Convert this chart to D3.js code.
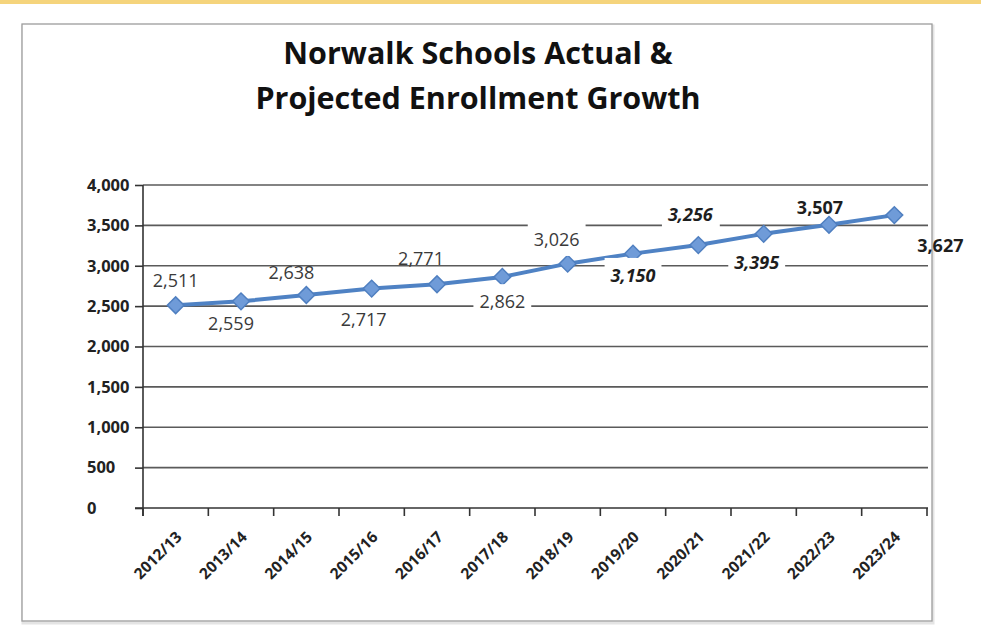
<!DOCTYPE html>
<html>
<head>
<meta charset="utf-8">
<script src="https://cdn.jsdelivr.net/npm/d3@7"></script>
<style>
  body { margin: 0; background: #fff; }
  svg { display: block; }
</style>
</head>
<body>
<div id="chart"></div>
<script>
const years = ["2012/13","2013/14","2014/15","2015/16","2016/17","2017/18","2018/19","2019/20","2020/21","2021/22","2022/23","2023/24"];
const enrollment = [2511, 2559, 2638, 2717, 2771, 2862, 3026, 3150, 3256, 3395, 3507, 3627];
const yTicks = [0, 500, 1000, 1500, 2000, 2500, 3000, 3500, 4000];
const titleLines = ["Norwalk Schools Actual &", "Projected Enrollment Growth"];

// label placement (offset from point, px) and look, one per point
const labelOffsets = [[0,-25],[-10,22],[-15,-22],[-8,31],[-16,-26],[0,25],[-11,-24],[0,22],[-8,-30],[-7,29],[-9,-17],[46,31]];
const labelStyle = ["n","n","n","n","n","nb","nb","bib","bib","bib","b","b"];

const width = 981, height = 635;

const svg = d3.select("#chart")
  .append("svg")
  .attr("width", width)
  .attr("height", height);

// yellow strip at the top
svg.append("rect").attr("x", 0).attr("y", 0).attr("width", width).attr("height", 4).attr("fill", "#f5d47c");

// chart frame
svg.append("rect").attr("x", 23).attr("y", 26).attr("width", 910).attr("height", 597)
  .attr("fill", "none").attr("stroke", "#e4e4e4").attr("stroke-width", 3);
svg.append("rect").attr("x", 22).attr("y", 24).attr("width", 910).attr("height", 597)
  .attr("fill", "#fff").attr("stroke", "#9c9c9c").attr("stroke-width", 1.3);

svg.append("text")
  .attr("text-anchor", "middle")
  .style("font-family", "'Open Sans', sans-serif")
  .style("font-weight", "bold")
  .style("font-size", "30.5px")
  .attr("fill", "#111")
  .selectAll("tspan")
  .data(titleLines)
  .enter()
  .append("tspan")
  .attr("x", 478)
  .attr("y", (d, i) => 64 + i * 45)
  .text(d => d);

const x = d3.scaleBand().domain(years).range([143, 927]);
const y = d3.scaleLinear().domain([0, 4000]).range([508, 185]);

// gridlines
svg.append("g")
  .selectAll("line")
  .data(yTicks.filter(d => d > 0))
  .enter()
  .append("line")
  .attr("x1", 143).attr("x2", 928)
  .attr("y1", d => y(d)).attr("y2", d => y(d))
  .attr("stroke", "#5a5a5a").attr("stroke-width", 1.6);

// y axis
const yAxis = svg.append("g")
  .attr("transform", "translate(143,0)")
  .call(d3.axisLeft(y).tickValues(yTicks).tickSize(8).tickFormat(d3.format(",")));
yAxis.select(".domain").remove();
yAxis.selectAll(".tick line").attr("stroke", "#333").attr("stroke-width", 1.6);
yAxis.selectAll(".tick text")
  .attr("x", -56)
  .attr("text-anchor", "start")
  .attr("fill", "#222")
  .style("font-family", "'Open Sans', sans-serif")
  .style("font-weight", "bold")
  .style("font-size", "16.5px");

svg.append("line").attr("x1", 143).attr("x2", 143).attr("y1", 185).attr("y2", 516)
  .attr("stroke", "#333").attr("stroke-width", 1.6);
svg.append("line").attr("x1", 135).attr("x2", 928).attr("y1", y(0)).attr("y2", y(0))
  .attr("stroke", "#333").attr("stroke-width", 1.6);

// x ticks at category edges
const edges = years.map(d => x(d)).concat([x.range()[1]]);
svg.append("g")
  .selectAll("line")
  .data(edges)
  .enter()
  .append("line")
  .attr("x1", d => d).attr("x2", d => d)
  .attr("y1", y(0)).attr("y2", y(0) + 8)
  .attr("stroke", "#333").attr("stroke-width", 1.6);

svg.append("g")
  .selectAll("text")
  .data(years)
  .enter()
  .append("text")
  .attr("transform", d => `translate(${x(d) + x.bandwidth() / 2 + 7},538) rotate(-45)`)
  .attr("text-anchor", "end")
  .attr("fill", "#222")
  .style("font-family", "'Open Sans', sans-serif")
  .style("font-weight", "bold")
  .style("font-size", "15.5px")
  .text(d => d);

// the line
const pts = years.map((d, i) => [x(d) + x.bandwidth() / 2, y(enrollment[i])]);

svg.append("path")
  .datum(pts)
  .attr("d", d3.line())
  .attr("fill", "none")
  .attr("stroke", "#4f82c4")
  .attr("stroke-width", 4)
  .attr("stroke-linejoin", "round");

svg.append("g")
  .selectAll("path")
  .data(pts)
  .enter()
  .append("path")
  .attr("d", d3.symbol(d3.symbolSquare, 140))
  .attr("transform", d => `translate(${d[0]},${d[1]}) rotate(45)`)
  .attr("fill", "#6f9bd8")
  .attr("stroke", "#4f7fc0")
  .attr("stroke-width", 1.5);

// data labels
const labels = svg.append("g")
  .selectAll("g")
  .data(enrollment)
  .enter()
  .append("g")
  .attr("transform", (d, i) => `translate(${pts[i][0] + labelOffsets[i][0]},${pts[i][1] + labelOffsets[i][1]})`);

labels.append("text")
  .attr("text-anchor", "middle")
  .attr("dy", "0.35em")
  .attr("fill", (d, i) => labelStyle[i] === "b" || labelStyle[i] === "bib" ? "#1e1e1e" : "#3a3a3a")
  .style("font-family", "'Open Sans', sans-serif")
  .style("font-size", "18px")
  .style("font-weight", (d, i) => (labelStyle[i] === "b" || labelStyle[i] === "bib") ? "bold" : "normal")
  .style("font-style", (d, i) => labelStyle[i] === "bib" ? "italic" : "normal")
  .text(d => d3.format(",")(d));

// white boxes behind the labels that cut the gridlines
labels.each(function (d, i) {
  if (labelStyle[i] !== "nb" && labelStyle[i] !== "bib") return;
  const g = d3.select(this);
  const bb = g.select("text").node().getBBox();
  g.insert("rect", "text")
    .attr("x", bb.x - 6).attr("y", bb.y - 5)
    .attr("width", bb.width + 12).attr("height", bb.height + 10)
    .attr("fill", "#fff");
});
</script>
</body>
</html>
